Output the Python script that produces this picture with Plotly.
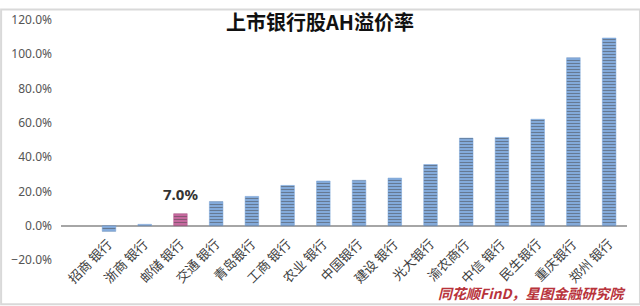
import plotly.graph_objects as go

banks = ["招商 银行", "浙商 银行", "邮储 银行", "交通 银行", "青岛银行", "工商 银行", "农业 银行",
         "中国银行", "建设 银行", "光大银行", "渝农商行", "中信 银行", "民生银行", "重庆银行", "郑州 银行"]
premium = [-0.033, 0.008, 0.070, 0.141, 0.171, 0.235, 0.261, 0.265, 0.278, 0.357,
           0.511, 0.515, 0.621, 0.980, 1.095]
highlight = "邮储 银行"
y_ticks = [-0.2, 0.0, 0.2, 0.4, 0.6, 0.8, 1.0, 1.2]

fill = ["#CB6AA2" if b == highlight else "#86AFE2" for b in banks]
stripe = ["#F6E0EE" if b == highlight else "#EAF1FB" for b in banks]
line = ["#B8538C" if b == highlight else "#74A0D6" for b in banks]

fig = go.Figure()
fig.add_trace(go.Bar(
    x=banks, y=premium,
    marker=dict(color=fill, line=dict(color=line, width=0.5),
                pattern=dict(shape="-", fillmode="overlay", bgcolor=fill, fgcolor=stripe,
                             size=3, solidity=0.4)),
))

for b, v in zip(banks, premium):
    fig.add_annotation(x=b, y=0, xref="x", yref="y", text=b, showarrow=False,
                       textangle=-45, xanchor="right", yanchor="top", xshift=10, yshift=-6,
                       font=dict(family="Noto Sans CJK SC", size=13, color="#404040"))
    if b == highlight:
        fig.add_annotation(x=b, y=v, xref="x", yref="y", text="<b>%.1f%%</b>" % (v * 100),
                           showarrow=False, yanchor="bottom", yshift=8,
                           font=dict(family="Noto Sans, sans-serif", size=15, color="#333333"))

fig.add_annotation(x=1.0, y=0, xref="paper", yref="paper", yshift=-33, xanchor="right", yanchor="middle",
                   text="<i><b>同花顺FinD，星图金融研究院</b></i>", showarrow=False,
                   font=dict(family="Noto Sans CJK SC", size=14, color="#B8333B"))

fig.update_layout(
    width=640, height=306,
    margin=dict(l=60, r=13, t=11, b=46),
    paper_bgcolor="white", plot_bgcolor="white",
    showlegend=False, bargap=0.62,
    title=dict(text="<b>上市银行股AH溢价率</b>", x=0.5, xanchor="center", y=1 - 23 / 306, yanchor="middle",
               font=dict(family="Noto Sans CJK SC", size=20, color="#111111")),
    xaxis=dict(showticklabels=False, showline=False, showgrid=False, zeroline=False, ticks=""),
    yaxis=dict(range=[-0.2, 1.2], tickvals=y_ticks, tickformat=".1%", showgrid=False,
               zeroline=True, zerolinecolor="#A6A6A6", zerolinewidth=1.5, showline=False,
               ticks="", ticklabelstandoff=8,
               tickfont=dict(family="Noto Sans, sans-serif", size=12, color="#555555")),
)

fig.add_shape(type="rect", xref="paper", yref="paper", x0=-60 / 567, x1=1 + 13 / 567,
              y0=-46 / 249, y1=1 + 11 / 249, line=dict(color="#D9D9D9", width=2), fillcolor="rgba(0,0,0,0)")

fig.write_html("out.html")
